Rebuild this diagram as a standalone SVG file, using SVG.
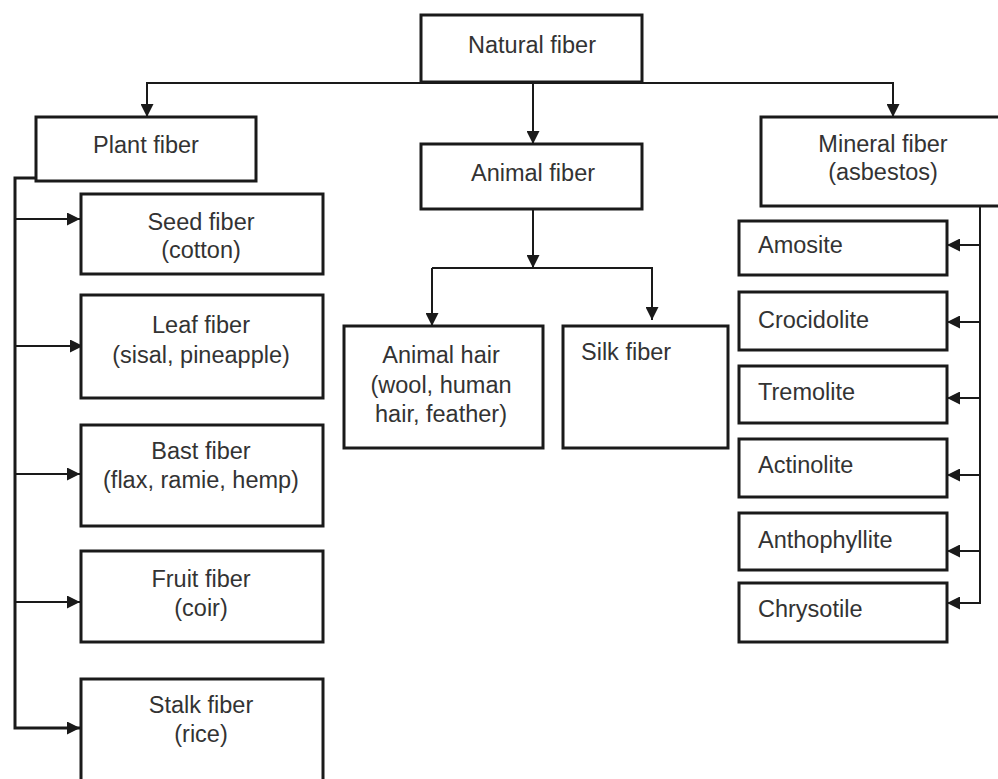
<svg xmlns="http://www.w3.org/2000/svg" width="998" height="779" viewBox="0 0 998 779">
<defs>
<marker id="ah" viewBox="0 0 13 13" refX="13" refY="6.5" markerWidth="13" markerHeight="13" markerUnits="userSpaceOnUse" orient="auto">
<path d="M0,0 L13,6.5 L0,13 z" fill="#1a1a1a"/>
</marker>
<style>
.box{fill:#fff;stroke:#1a1a1a;stroke-width:3}
.t{font-family:"Liberation Sans",Arial,sans-serif;font-size:23.5px;fill:#333;text-anchor:middle}
.l{text-anchor:start}
.c{fill:none;stroke:#1a1a1a;stroke-width:2}
.k{stroke-width:3}
.a{marker-end:url(#ah)}
</style>
</defs>
<rect width="998" height="779" fill="#fff"/>
<g id="connectors">
<path class="c a" d="M533,83 H147 V117"/>
<path class="c a" d="M533,83 H893 V117"/>
<path class="c a" d="M533,82 V144"/>
<path class="c k a" d="M36,178 H15 V728 H80"/>
<path class="c a" d="M15,219 H80"/>
<path class="c a" d="M15,346 H83"/>
<path class="c a" d="M15,474 H80"/>
<path class="c a" d="M15,602 H80"/>
<path class="c a" d="M533,209 V268"/>
<path class="c a" d="M432,268 H652 V320"/>
<path class="c a" d="M432,268 V326"/>
<path class="c a" d="M980,206 V603 H947"/>
<path class="c a" d="M980,245 H947"/>
<path class="c a" d="M980,322 H947"/>
<path class="c a" d="M980,398 H947"/>
<path class="c a" d="M980,475 H947"/>
<path class="c a" d="M980,551 H947"/>
</g>
<g id="natural"><rect class="box" x="421" y="15" width="221" height="67"/><text class="t" x="532" y="53">Natural fiber</text></g>
<g id="plant"><rect class="box" x="36" y="117" width="220" height="64"/><text class="t" x="146" y="153">Plant fiber</text></g>
<g id="animal"><rect class="box" x="421" y="144" width="221" height="65"/><text class="t" x="533" y="181">Animal fiber</text></g>
<g id="mineral"><rect class="box" x="761" y="117" width="245" height="89"/><text class="t" x="883" y="152">Mineral fiber</text><text class="t" x="883" y="180">(asbestos)</text></g>
<g id="seed"><rect class="box" x="81" y="194" width="242" height="80"/><text class="t" x="201" y="230">Seed fiber</text><text class="t" x="201" y="258">(cotton)</text></g>
<g id="leaf"><rect class="box" x="81" y="295" width="242" height="103"/><text class="t" x="201" y="333">Leaf fiber</text><text class="t" x="201" y="363">(sisal, pineapple)</text></g>
<g id="bast"><rect class="box" x="81" y="425" width="242" height="101"/><text class="t" x="201" y="459">Bast fiber</text><text class="t" x="201" y="488">(flax, ramie, hemp)</text></g>
<g id="fruit"><rect class="box" x="81" y="551" width="242" height="91"/><text class="t" x="201" y="587">Fruit fiber</text><text class="t" x="201" y="616">(coir)</text></g>
<g id="stalk"><rect class="box" x="81" y="679" width="242" height="110"/><text class="t" x="201" y="713">Stalk fiber</text><text class="t" x="201" y="742">(rice)</text></g>
<g id="animalhair"><rect class="box" x="344" y="326" width="199" height="122"/><text class="t" x="441" y="363">Animal hair</text><text class="t" x="441" y="393">(wool, human</text><text class="t" x="441" y="422">hair, feather)</text></g>
<g id="silk"><rect class="box" x="563" y="326" width="165" height="122"/><text class="t l" x="581" y="360">Silk fiber</text></g>
<g id="amosite"><rect class="box" x="739" y="221" width="208" height="54"/><text class="t l" x="758" y="253">Amosite</text></g>
<g id="crocidolite"><rect class="box" x="739" y="292" width="208" height="58"/><text class="t l" x="758" y="328">Crocidolite</text></g>
<g id="tremolite"><rect class="box" x="739" y="366" width="208" height="57"/><text class="t l" x="758" y="400">Tremolite</text></g>
<g id="actinolite"><rect class="box" x="739" y="439" width="208" height="58"/><text class="t l" x="758" y="473">Actinolite</text></g>
<g id="anthophyllite"><rect class="box" x="739" y="513" width="208" height="57"/><text class="t l" x="758" y="548">Anthophyllite</text></g>
<g id="chrysotile"><rect class="box" x="739" y="583" width="208" height="59"/><text class="t l" x="758" y="617">Chrysotile</text></g>
</svg>
